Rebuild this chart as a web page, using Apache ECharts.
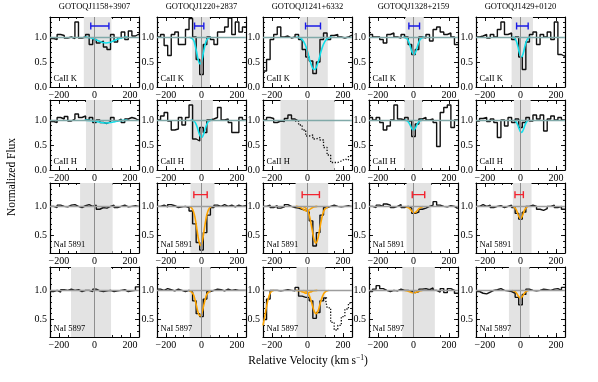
<!DOCTYPE html>
<html lang="en">
<head>
<meta charset="UTF-8">
<title>CaII / NaI absorption profiles</title>
<script src="https://cdn.jsdelivr.net/npm/echarts@6/dist/echarts.min.js"></script>
<style>
  html, body { margin: 0; padding: 0; background: #fff; }
  #chart { width: 598px; height: 382px; }
</style>
</head>
<body>
<div id="chart"></div>
<script>
// velocity bin centres (km/s), shared by every spectrum
var VEL = [-240, -220, -200, -180, -160, -140, -120, -100, -80, -60, -40, -20, 0,
           20, 40, 60, 80, 100, 120, 140, 160, 180, 200, 220, 240];

var TITLES = ['GOTOQJ1158+3907', 'GOTOQJ1220+2837', 'GOTOQJ1241+6332', 'GOTOQJ1328+2159', 'GOTOQJ1429+0120'];
var LINE_LABELS = ['CaII K', 'CaII H', 'NaI 5891', 'NaI 5897'];
var VEL_TICKS = [-200, 0, 200];
var FLUX_TICKS_CA = [0, 0.5, 1.0];
var FLUX_TICKS_NA = [0.5, 1.0];

// normalised flux, one array per sightline (null = not shown)
var fluxCaK = [
  [0.97, 0.95, 1.05, 1.03, 0.98, 1.00, 0.97, 1.30, 0.98, 1.00, 1.05, 0.85, 0.95, 0.88, 0.92, 0.80, 0.75, 1.05, 0.90, 0.98, 1.10, 0.95, 1.12, 1.02, 1.05],
  [1.00, 1.05, 0.83, 0.63, 1.05, 1.10, 0.85, 0.85, 1.15, 1.37, 1.00, 0.55, 0.25, 0.85, 1.00, 0.95, 0.85, 1.10, 1.10, 1.20, 1.38, 1.05, 1.30, 1.10, 1.20],
  [0.32, 0.55, 0.95, 1.05, 1.20, 1.00, 1.02, 0.98, 1.00, 1.05, 0.95, 0.75, 0.60, 0.52, 0.27, 0.50, 0.95, 1.08, 0.95, 1.03, 1.05, 1.00, 0.98, 1.00, 1.03],
  [1.05, 1.00, 1.00, 0.95, 0.88, 1.05, 1.08, 1.00, 0.98, 1.05, 1.00, 0.85, 0.65, 0.75, 1.00, 0.98, 1.05, 0.92, 1.15, 1.20, 1.10, 1.05, 1.08, 1.00, 0.85],
  [1.00, 1.02, 1.05, 0.98, 1.05, 1.00, 1.15, 1.30, 1.05, 1.08, 0.95, 1.00, 0.60, 0.35, 0.90, 1.05, 1.10, 0.85, 1.05, 1.00, 1.10, 0.95, 1.30, 0.65, 0.62]
];
var fluxCaH = [
  [0.97, 0.95, 1.05, 1.02, 1.07, 0.98, 1.02, 1.12, 1.05, 1.08, 1.00, 1.05, 0.95, 1.00, 0.95, 0.93, 0.97, 1.05, 0.98, 1.02, 0.95, 1.02, 1.05, 1.03, 1.00],
  [1.00, 1.08, 1.15, 0.98, 0.80, 0.82, 1.05, 0.90, 1.05, 1.30, 0.62, 0.58, 0.85, 0.75, 1.00, 1.02, 1.05, 1.25, 1.00, 1.02, 0.95, 0.75, 0.75, 1.05, 1.00],
  [1.00, 1.05, 1.03, 0.95, 0.98, 0.97, 1.03, 1.10, 1.02, 0.98, null, null, null, null, null, null, null, null, null, null, null, null, null, null, null],
  [1.05, 1.00, 1.05, 0.95, 0.80, 0.88, 1.00, 1.30, 1.02, 1.00, 1.05, 0.98, 0.67, 0.92, 1.02, 1.05, 1.00, 1.02, 0.95, 0.47, 1.15, 1.25, 1.30, 0.85, 1.00],
  [0.98, 1.03, 1.05, 0.97, 1.02, 0.95, 0.65, 1.00, 0.88, 1.05, 0.95, 1.02, 0.85, 0.95, 1.05, 0.98, 1.10, 1.02, 1.10, 0.78, 1.02, 1.08, 1.00, 1.05, 1.00]
];
var fluxNa5891 = [
  [1.00, 0.98, 1.02, 1.00, 0.99, 1.02, 1.03, 1.00, 0.98, 1.01, 1.03, 1.00, 1.02, 0.95, 0.98, 0.97, 1.00, 1.02, 0.98, 1.00, 1.02, 0.99, 1.00, 1.01, 1.00],
  [1.00, 1.02, 0.99, 1.03, 1.01, 0.98, 0.99, 1.00, 0.98, 0.92, 0.70, 0.38, 0.25, 0.55, 0.85, 0.98, 1.02, 1.00, 1.03, 1.00, 1.02, 0.99, 1.02, 1.00, 1.01],
  [1.00, 1.02, 0.98, 1.01, 0.97, 0.99, 1.03, 1.00, 0.98, 0.97, 0.95, 0.93, 0.90, 0.75, 0.32, 0.55, 0.85, 0.98, 1.00, 1.02, 1.00, 0.99, 1.00, 1.01, 1.00],
  [1.00, 0.98, 1.02, 1.00, 1.04, 1.02, 0.98, 1.00, 1.03, 0.98, 1.00, 0.97, 0.88, 0.90, 0.95, 0.97, 1.00, 1.02, 1.08, 1.02, 1.00, 0.99, 1.01, 1.00, 0.97],
  [1.00, 1.03, 1.00, 1.02, 0.98, 1.00, 1.01, 0.98, 1.00, 1.02, 0.98, 0.88, 0.78, 0.90, 1.00, 1.02, 1.00, 0.95, 0.93, 0.96, 1.00, 1.02, 0.98, 1.00, 0.95]
];
var fluxNa5897 = [
  [0.98, 1.00, 0.97, 1.01, 1.00, 1.02, 1.00, 1.01, 0.98, 1.00, 1.00, 0.98, 1.02, 0.99, 0.98, 0.99, 1.00, 0.98, 0.99, 1.00, 1.01, 0.98, 0.99, 1.00, 1.06],
  [1.02, 1.00, 1.03, 1.01, 0.99, 1.02, 1.00, 0.98, 1.00, 0.97, 0.82, 0.60, 0.55, 0.85, 0.98, 1.00, 1.02, 1.01, 0.99, 1.02, 1.00, 1.01, 1.00, 1.00, 1.00],
  [0.50, 0.85, 1.00, 1.00, 0.99, 1.00, 1.01, 1.00, 0.99, 1.05, 0.90, 0.88, 0.88, 0.82, 0.52, 0.62, 0.82, 0.87, null, null, null, null, null, null, null],
  [0.98, 1.02, 1.08, 1.03, 1.00, 0.98, 1.00, 0.99, 1.02, 1.00, 1.00, 0.98, 0.96, 0.98, 1.02, 1.03, 1.01, 1.04, 1.00, 0.97, 1.03, 0.96, 1.03, 1.00, 0.95],
  [0.98, 0.95, 0.94, 0.97, 1.00, 1.01, 1.03, 1.00, 0.99, 0.98, 0.95, 0.88, 0.75, 0.93, 1.02, 1.00, 0.99, 1.00, 1.02, 1.01, 1.00, 1.02, 1.03, 1.00, 1.05]
];

// blended / contaminated pixels, drawn dotted
var blendCaH = [null, null, 0.98, 0.90, 0.80, 0.68, 0.70, 0.62, 0.65, 0.60, 0.45, 0.30, 0.15, 0.15, 0.18, 0.22, 0.20, 0.28];
var blendCaH_col = 2, blendCaH_from = 7;   // index into VEL where the list starts
var blendNa5897 = [0.87, 0.70, 0.45, 0.32, 0.40, 0.55, 0.68, 0.78];
var blendNa5897_col = 2, blendNa5897_from = 17;

// fitted components: per sightline, a list of [velocity, flux] curves
var modelCaK = [
  [[[-55, 0.997], [-35, 0.99], [-15, 0.975], [5, 0.951], [25, 0.919], [45, 0.891], [65, 0.88], [85, 0.891], [105, 0.919], [125, 0.951], [145, 0.975], [165, 0.99], [185, 0.997]]],
  [[[-68, 0.996], [-48, 0.954], [-38, 0.865], [-28, 0.71], [-18, 0.537], [-8, 0.46], [2, 0.537], [12, 0.71], [22, 0.865], [32, 0.954], [52, 0.996]]],
  [[[-62, 0.997], [-42, 0.981], [-22, 0.912], [-2, 0.733], [18, 0.48], [38, 0.35], [58, 0.48], [78, 0.733], [98, 0.912], [118, 0.981], [138, 0.997]]],
  [[[-58, 0.998], [-38, 0.97], [-28, 0.913], [-18, 0.811], [-8, 0.7], [2, 0.65], [12, 0.7], [22, 0.811], [32, 0.913], [42, 0.97], [62, 0.998]]],
  [[[-45, 0.997], [-35, 0.982], [-25, 0.931], [-15, 0.817], [-5, 0.671], [5, 0.6], [15, 0.671], [25, 0.817], [35, 0.931], [45, 0.982], [55, 0.997]]]
];
var modelCaH = [
  [[[-55, 0.998], [-15, 0.988], [5, 0.976], [25, 0.96], [45, 0.946], [65, 0.94], [85, 0.946], [105, 0.96], [125, 0.976], [145, 0.988], [185, 0.998]]],
  [[[-60, 0.999], [-40, 0.97], [-30, 0.913], [-20, 0.811], [-10, 0.7], [0, 0.65], [10, 0.7], [20, 0.811], [30, 0.913], [40, 0.97], [60, 0.999]]],
  [],
  [[[-50, 0.998], [-40, 0.991], [-30, 0.966], [-20, 0.908], [-10, 0.835], [0, 0.8], [10, 0.835], [20, 0.908], [30, 0.966], [40, 0.991], [50, 0.998]]],
  [[[-35, 0.993], [-25, 0.966], [-15, 0.897], [-5, 0.8], [5, 0.75], [15, 0.8], [25, 0.897], [35, 0.966], [45, 0.993]]]
];
var modelNa5891 = [
  [],
  [[[-65, 0.993], [-55, 0.971], [-45, 0.909], [-35, 0.782], [-25, 0.593], [-15, 0.409], [-5, 0.33], [5, 0.409], [15, 0.593], [25, 0.782], [35, 0.909], [45, 0.971], [55, 0.993]]],
  [[[-65, 0.999], [-45, 0.989], [-25, 0.952], [-5, 0.92], [15, 0.952], [35, 0.989], [55, 0.999]],
   [[-23, 0.994], [-3, 0.952], [7, 0.879], [17, 0.751], [27, 0.583], [37, 0.432], [47, 0.37], [57, 0.432], [67, 0.583], [77, 0.751], [87, 0.879], [97, 0.952], [117, 0.994]]],
  [[[-45, 0.998], [-25, 0.97], [-15, 0.94], [-5, 0.906], [5, 0.89], [15, 0.906], [25, 0.94], [35, 0.97], [55, 0.998]]],
  [[[-40, 0.994], [-30, 0.972], [-20, 0.914], [-10, 0.832], [0, 0.79], [10, 0.832], [20, 0.914], [30, 0.972], [40, 0.994]]]
];
var modelNa5897 = [
  [],
  [[[-68, 0.995], [-48, 0.941], [-38, 0.857], [-28, 0.733], [-18, 0.612], [-8, 0.56], [2, 0.612], [12, 0.733], [22, 0.857], [32, 0.941], [52, 0.995]]],
  [[[-250, 0.40], [-240, 0.55], [-230, 0.72], [-220, 0.86], [-210, 0.95], [-200, 0.985], [-190, 0.998]],
   [[-65, 0.999], [-45, 0.993], [-25, 0.97], [-5, 0.95], [15, 0.97], [35, 0.993], [55, 0.999]],
   [[-22, 0.997], [-2, 0.97], [8, 0.923], [18, 0.842], [28, 0.735], [38, 0.639], [48, 0.6], [58, 0.639], [68, 0.735], [78, 0.842], [88, 0.923], [98, 0.97], [118, 0.997]]],
  [[[-50, 0.998], [-30, 0.985], [-15, 0.967], [0, 0.955], [15, 0.967], [30, 0.985], [50, 0.998]]],
  [[[-45, 0.998], [-30, 0.978], [-20, 0.94], [-10, 0.894], [0, 0.87], [10, 0.894], [20, 0.94], [30, 0.978], [45, 0.998]]]
];

// velocity integration windows (km/s)
var winCaK = [[-60, 95], [-52, 47], [-43, 114], [-45, 58], [-50, 70]];
var winCaH = [[-48, 100], [-62, 64], [-152, 152], [-51, 49], [-37, 57]];
var winNa5891 = [[-81, 102], [-62, 73], [-67, 116], [-39, 100], [-43, 62]];
var winNa5897 = [[-132, 93], [-67, 51], [-62, 101], [-63, 120], [-65, 51]];

// component velocity spread bars
var spreadCaK = [[-21, 81], [-39, 13], [-11, 73], [-26, 34], [-22, 43]];
var spreadNa5891 = [null, [-43, 32], [-30, 67], [-7, 63], [-31, 16]];
var SPREAD_LEVEL = [1.22, null, 1.20, null];

var rowFlux = [fluxCaK, fluxCaH, fluxNa5891, fluxNa5897];
var rowModel = [modelCaK, modelCaH, modelNa5891, modelNa5897];
var rowWin = [winCaK, winCaH, winNa5891, winNa5897];
var rowSpread = [spreadCaK, null, spreadNa5891, null];

// layout
var FONT = 'Liberation Serif';
var COL_LEFT = [50, 157, 263, 369, 476];
var ROW_TOP = [17, 100, 183, 267];
var PW = 89, PH = 70;
var ROW_YMIN = [0, 0, 0.2, 0.2];
var ROW_MODEL_COLOR = ['#12e0ec', '#12e0ec', '#ffa500', '#ffa500'];
var ROW_CONT_COLOR = ['#80a9a8', '#80a9a8', '#9d9d9d', '#9d9d9d'];
var ROW_SPREAD_COLOR = ['#1a1ae6', null, '#f2232f', null];

var chart = echarts.init(document.getElementById('chart'));

function fmtVel(v) { return v < 0 ? '\u2212' + (-v) : String(v); }
function fmtFlux(v) { return v.toFixed(1); }

function stepData(flux) {
  var pts = [[-250, flux[0]]];
  VEL.forEach(function (v, i) { pts.push([v, flux[i]]); });
  pts.push([250, flux[flux.length - 1]]);
  return pts;
}

function partData(vals, from) {
  var pts = [];
  vals.forEach(function (f, i) { pts.push([VEL[from + i], f]); });
  if (from + vals.length === VEL.length) pts.push([250, vals[vals.length - 1]]);
  return pts;
}

var AX_LINE = { show: true, onZero: false, lineStyle: { color: '#000', width: 1.2 } };
var TICK_STYLE = { color: '#000', width: 0.9 };

var grids = [], xAxes = [], yAxes = [], series = [], graphics = [];

for (var r = 0; r < 4; r++) {
  for (var c = 0; c < 5; c++) {
    var g = r * 5 + c;
    grids.push({ left: COL_LEFT[c], top: ROW_TOP[r], width: PW, height: PH });

    var xb = { gridIndex: g, type: 'value', min: -250, max: 250, splitLine: { show: false } };
    xAxes.push(Object.assign({}, xb, {
      position: 'bottom', interval: 50, axisLine: AX_LINE,
      axisTick: { show: true, inside: true, length: 2, lineStyle: TICK_STYLE },
      axisLabel: { show: true, customValues: VEL_TICKS, margin: 3, fontSize: 10,
        fontFamily: FONT, color: '#000', formatter: fmtVel }
    }));
    xAxes.push(Object.assign({}, xb, {
      position: 'bottom', axisLine: { show: false, onZero: false },
      axisTick: { show: true, inside: true, length: 4, customValues: VEL_TICKS, lineStyle: TICK_STYLE },
      axisLabel: { show: false }
    }));
    xAxes.push(Object.assign({}, xb, {
      position: 'top', interval: 50, axisLine: AX_LINE,
      axisTick: { show: true, inside: true, length: 2, lineStyle: TICK_STYLE },
      axisLabel: { show: false }
    }));
    xAxes.push(Object.assign({}, xb, {
      position: 'top', axisLine: { show: false, onZero: false },
      axisTick: { show: true, inside: true, length: 4, customValues: VEL_TICKS, lineStyle: TICK_STYLE },
      axisLabel: { show: false }
    }));

    var majors = r < 2 ? FLUX_TICKS_CA : FLUX_TICKS_NA;
    var yb = { gridIndex: g, type: 'value', min: ROW_YMIN[r], max: 1.4, splitLine: { show: false } };
    yAxes.push(Object.assign({}, yb, {
      position: 'left', interval: 0.1, axisLine: AX_LINE,
      axisTick: { show: true, inside: true, length: 2, lineStyle: TICK_STYLE },
      axisLabel: { show: true, customValues: majors, margin: 3, fontSize: 10,
        fontFamily: FONT, color: '#000', formatter: fmtFlux }
    }));
    yAxes.push(Object.assign({}, yb, {
      position: 'left', axisLine: { show: false, onZero: false },
      axisTick: { show: true, inside: true, length: 4, customValues: majors, lineStyle: TICK_STYLE },
      axisLabel: { show: false }
    }));
    yAxes.push(Object.assign({}, yb, {
      position: 'right', interval: 0.1, axisLine: AX_LINE,
      axisTick: { show: true, inside: true, length: 2, lineStyle: TICK_STYLE },
      axisLabel: { show: false }
    }));
    yAxes.push(Object.assign({}, yb, {
      position: 'right', axisLine: { show: false, onZero: false },
      axisTick: { show: true, inside: true, length: 4, customValues: majors, lineStyle: TICK_STYLE },
      axisLabel: { show: false }
    }));

    var xi = 4 * g, yi = 4 * g;
    var win = rowWin[r][c];

    // shaded window, zero-velocity line and continuum
    series.push({
      type: 'line', xAxisIndex: xi, yAxisIndex: yi, data: [], silent: true, z: 1,
      markArea: { silent: true, itemStyle: { color: '#e3e3e3' },
        data: [[{ xAxis: win[0] }, { xAxis: win[1] }]] },
      markLine: { silent: true, symbol: ['none', 'none'], label: { show: false },
        data: [
          { xAxis: 0, lineStyle: { color: '#8e8e8e', width: 1, type: 'solid' } },
          { yAxis: 1, lineStyle: { color: ROW_CONT_COLOR[r], width: 1.3, type: 'solid' } }
        ] }
    });

    // spectrum
    series.push({
      type: 'line', xAxisIndex: xi, yAxisIndex: yi, step: 'middle', symbol: 'none',
      data: stepData(rowFlux[r][c]), silent: true, z: 3,
      lineStyle: { color: '#111', width: 1.4 }
    });

    // fitted components
    rowModel[r][c].forEach(function (comp) {
      series.push({
        type: 'line', xAxisIndex: xi, yAxisIndex: yi, smooth: 0.5, symbol: 'none',
        data: comp, silent: true, z: 4,
        lineStyle: { color: ROW_MODEL_COLOR[r], width: 1.6 }
      });
    });

    // spread bar
    if (rowSpread[r] && rowSpread[r][c]) {
      var b = rowSpread[r][c];
      series.push({
        type: 'line', xAxisIndex: xi, yAxisIndex: yi, silent: true, z: 5,
        data: [[b[0], SPREAD_LEVEL[r]], [b[1], SPREAD_LEVEL[r]]],
        symbol: 'rect', symbolSize: [1.4, 7], showSymbol: true,
        itemStyle: { color: ROW_SPREAD_COLOR[r] },
        lineStyle: { color: ROW_SPREAD_COLOR[r], width: 1.4 }
      });
    }

    // line label in the lower-left corner
    graphics.push({
      type: 'text', x: COL_LEFT[c] + 3.5, y: ROW_TOP[r] + PH - 8, z: 100,
      style: { text: LINE_LABELS[r], fill: '#000', font: '8.5px "' + FONT + '"',
        align: 'left', verticalAlign: 'middle' }
    });
  }
}

// blended pixels (dotted)
[[1, blendCaH_col, blendCaH, blendCaH_from], [3, blendNa5897_col, blendNa5897, blendNa5897_from]].forEach(function (d) {
  var g = d[0] * 5 + d[1];
  series.push({
    type: 'line', xAxisIndex: 4 * g, yAxisIndex: 4 * g, step: 'middle', symbol: 'none',
    data: partData(d[2], d[3]), silent: true, z: 3,
    lineStyle: { color: '#111', width: 1.3, type: [1.3, 1.6] }
  });
});

TITLES.forEach(function (t, c) {
  graphics.push({
    type: 'text', x: COL_LEFT[c] + PW / 2, y: 7, z: 100,
    style: { text: t, fill: '#000', font: '8.5px "' + FONT + '"', align: 'center', verticalAlign: 'middle' }
  });
});

graphics.push({
  type: 'text', x: 12, y: 177, rotation: Math.PI / 2, z: 100,
  style: { text: 'Normalized Flux', fill: '#000', font: '11.5px "' + FONT + '"',
    align: 'center', verticalAlign: 'middle' }
});
graphics.push({
  type: 'text', x: 308, y: 361, z: 100,
  style: { text: 'Relative Velocity (km\u2009s{sup|\u22121})', fill: '#000',
    font: '11.5px "' + FONT + '"', align: 'center', verticalAlign: 'middle',
    rich: { sup: { fontSize: 7.5, fontFamily: FONT, fill: '#000', verticalAlign: 'top', padding: [0, 0, 5, 0] } } }
});

chart.setOption({
  animation: false,
  grid: grids,
  xAxis: xAxes,
  yAxis: yAxes,
  series: series,
  graphic: graphics
});
</script>
</body>
</html>
